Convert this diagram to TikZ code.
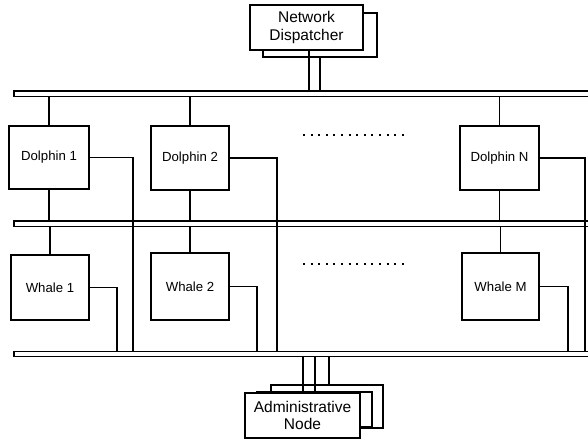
\documentclass[tikz,border=0pt]{standalone}
\usepackage{fontspec}
\setmainfont{Liberation Sans}
\begin{document}
\begin{tikzpicture}[x=1pt,y=-1pt, line width=1.6pt,
  box/.style={draw, fill=white, inner sep=0pt, font=\fontsize{13.2}{15}\selectfont},
  bigbox/.style={draw, fill=white, inner sep=0pt, align=center, font=\fontsize{15.5}{17.5}\selectfont},
  bus/.style={draw, fill=white, inner sep=0pt, minimum width=600pt, anchor=north west},
  dotrow/.style={line width=2pt, dash pattern=on 2pt off 5.6pt}]
\useasboundingbox (0,0) rectangle (588,440);

% buses
\node[bus, minimum height=5.5pt] (tb) at (13,90) {};
\node[bus, minimum height=5.5pt] (mb) at (13,220) {};
\node[bus, minimum height=5.2pt] (bb) at (13,350.5) {};

% dispatcher
\node[bigbox, minimum width=114pt, minimum height=44pt] (ndb) at (320,35) {};
\node[bigbox, minimum width=113pt, minimum height=45pt] (nd) at (306.5,27.5) {Network\\Dispatcher};
\coordinate (ndl) at (309,0);
\draw (ndl |- nd.south) -- (ndl |- tb.north);
\draw (ndb.south) -- (ndb.south |- tb.north);

% dolphins
\node[box, minimum width=80pt, minimum height=63pt] (d1) at (49,157.5) {Dolphin 1};
\node[box, minimum width=78pt, minimum height=64pt] (d2) at (190,158) {Dolphin 2};
\node[box, minimum width=79pt, minimum height=64pt] (dN) at (499.5,158) {Dolphin N};

% whales
\node[box, minimum width=78pt, minimum height=65pt] (w1) at (50,287.5) {Whale 1};
\node[box, minimum width=78pt, minimum height=67pt] (w2) at (190,286.5) {Whale 2};
\node[box, minimum width=77pt, minimum height=67pt] (wM) at (500.5,286.5) {Whale M};

% bus taps
\foreach \n in {d1,d2,dN} {
  \draw (\n.north) -- (\n.north |- tb.south);
  \draw (\n.south) -- (\n.south |- mb.north);
}
\foreach \n in {w1,w2,wM} {
  \draw (\n.north) -- (\n.north |- mb.south);
}

% side links to bottom bus
\coordinate (d1r) at (133,0);
\coordinate (d2r) at (277,0);
\coordinate (dNr) at (585,0);
\coordinate (w1r) at (117,0);
\coordinate (w2r) at (257,0);
\coordinate (wMr) at (568,0);
\draw (d1.east) -| (d1r |- bb.north);
\draw (d2.east) -| (d2r |- bb.north);
\draw (dN.east) -| (dNr |- bb.north);
\draw (w1.east) -| (w1r |- bb.north);
\draw (w2.east) -| (w2r |- bb.north);
\draw (wM.east) -| (wMr |- bb.north);

% dots
\draw[dotrow] (303,135) -- (405,135);
\draw[dotrow] (303,264) -- (405,264);

% administrative node
\node[bigbox, minimum width=112pt, minimum height=43pt] (an3) at (327,406.5) {};
\node[bigbox, minimum width=115pt, minimum height=35pt] (an2) at (314.5,409.5) {};
\node[bigbox, minimum width=115pt, minimum height=45pt] (an) at (302.5,415.5) {Administrative\\Node};
\coordinate (a1) at (303,0);
\coordinate (a2) at (315,0);
\coordinate (a3) at (329,0);
\draw (a1 |- bb.south) -- (a1 |- an.north);
\draw (a2 |- bb.south) -- (a2 |- an2.north);
\draw (a3 |- bb.south) -- (a3 |- an3.north);
\end{tikzpicture}
\end{document}
